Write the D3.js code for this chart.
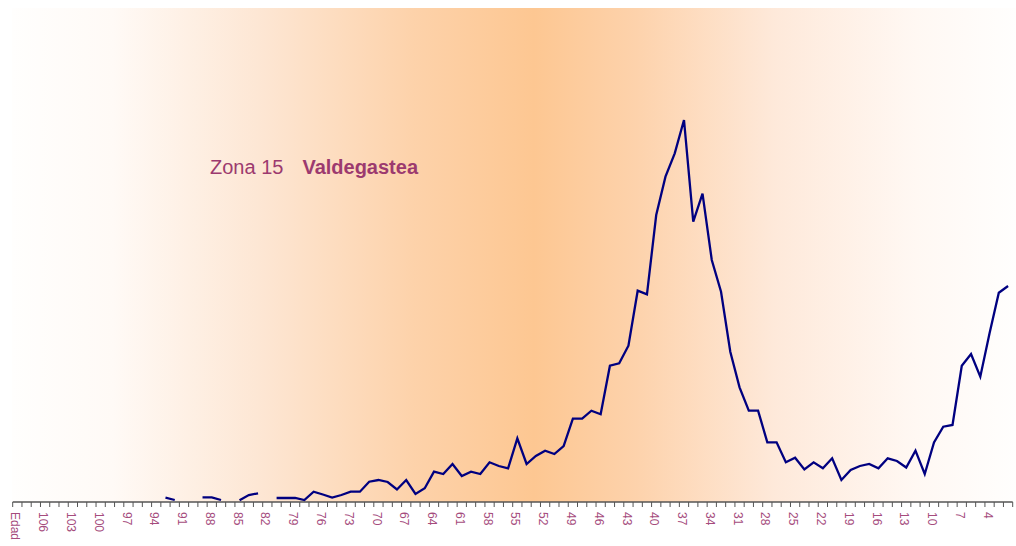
<!DOCTYPE html>
<html>
<head>
<meta charset="utf-8">
<script src="https://cdn.jsdelivr.net/npm/d3@7"></script>
<style>
  html, body { margin: 0; padding: 0; background: #fff; }
  svg { display: block; }
</style>
</head>
<body>
<div id="chart"></div>
<script>
// edades (de mayor a menor) y valores; null = sin dato
const ages = d3.range(108, 0, -1);
const values = [
  null, null, null, null, null, null, null, null, null, null, null, null, null, null, null, null,
  3.3, 1, null, null, 3.7, 3.7, 1, null, 0.7, 6, 7.7, null,
  3, 3, 3, 1, 9.3, 6.5, 3.5, 6, 9.3, 9.3,
  19.3, 21, 19, 11.5, 21, 7, 12.7, 29.3, 27, 37,
  25, 29.3, 27, 38.7, 35, 32.7, 62.7, 37, 45, 50.3,
  47, 55, 82.3, 82.3, 90.3, 86.7, 135.3, 137.7, 155.3, 210.3,
  206.7, 286, 324.3, 347.7, 381, 279.3, 307.3, 241, 209.3, 149.3,
  113.7, 90.3, 90.3, 58.7, 58.7, 38.7, 43.3, 31.5, 38.7, 32.7,
  42.7, 21, 31, 35, 37, 32.7, 42.7, 40, 33.5, 50.3,
  27, 58.5, 74.3, 76, 135.3, 147, 124.3, 167.7, 208.3, 215
];
const tickAges = d3.range(109, 0, -1);
const labelAges = [109, 106, 103, 100, 97, 94, 91, 88, 85, 82, 79, 76, 73, 70, 67, 64, 61, 58, 55, 52,
  49, 46, 43, 40, 37, 34, 31, 28, 25, 22, 19, 16, 13, 10, 7, 4];
const labelTexts = ["Edad", "106", "103", "100", "97", "94", "91", "88", "85", "82", "79", "76", "73",
  "70", "67", "64", "61", "58", "55", "52", "49", "46", "43", "40", "37", "34", "31", "28", "25", "22",
  "19", "16", "13", "10", "7", "4"];

const width = 1016, height = 546;
const plotTop = 8, axisY = 502;

const svg = d3.select("#chart").append("svg")
  .attr("width", width)
  .attr("height", height);

const x = d3.scaleLinear().domain([109, 1]).range([12.7, 1012.7]);
const y = d3.scaleLinear().domain([0, 400]).range([501, 101]);

// fondo con degradado horizontal
const grad = svg.append("defs").append("linearGradient")
  .attr("id", "bg")
  .attr("x1", "0%").attr("x2", "100%")
  .attr("y1", "0%").attr("y2", "0%");
const stops = [
  [0, "#fffefd"], [0.1, "#fffaf6"], [0.25, "#fde6d3"], [0.4, "#fdd2aa"],
  [0.52, "#fdc792"], [0.62, "#fdd2ab"], [0.76, "#fee9da"], [0.9, "#fff8f3"], [1, "#fffefd"]
];
grad.selectAll("stop")
  .data(stops)
  .join("stop")
  .attr("offset", d => d[0])
  .attr("stop-color", d => d[1]);

svg.append("rect")
  .attr("x", 12)
  .attr("y", plotTop)
  .attr("width", width - 12)
  .attr("height", axisY - plotTop)
  .attr("fill", "url(#bg)");

// titulo
const title = svg.append("text")
  .attr("x", 210)
  .attr("y", 174)
  .attr("font-family", "Liberation Sans, Arial, sans-serif")
  .attr("font-size", "20px")
  .attr("fill", "#9c3a6f");
title.append("tspan").text("Zona 15");
title.append("tspan")
  .attr("dx", 19)
  .attr("font-weight", "bold")
  .text("Valdegastea");

// eje x
const axis = svg.append("g");
axis.append("line")
  .attr("x1", x(109)).attr("x2", x(1))
  .attr("y1", axisY).attr("y2", axisY)
  .attr("stroke", "#555")
  .attr("stroke-width", 1.5);

axis.selectAll(".tick")
  .data(tickAges)
  .join("line")
  .attr("class", "tick")
  .attr("x1", d => x(d)).attr("x2", d => x(d))
  .attr("y1", axisY).attr("y2", axisY + 5)
  .attr("stroke", "#555")
  .attr("stroke-width", 1);

axis.selectAll(".lbl")
  .data(labelAges)
  .join("text")
  .attr("class", "lbl")
  .attr("transform", d => `translate(${x(d) + 3},${axisY + 10}) rotate(90)`)
  .attr("dy", "0.35em")
  .attr("font-family", "Liberation Sans, Arial, sans-serif")
  .attr("font-size", "12px")
  .attr("fill", "#a54c7d")
  .text((d, i) => labelTexts[i]);

// linea
const pts = ages.map((a, i) => ({ age: a, v: values[i] }));
const line = d3.line()
  .defined(d => d.v !== null)
  .x(d => x(d.age + 0.5))
  .y(d => y(d.v));

svg.append("path")
  .datum(pts)
  .attr("d", line)
  .attr("fill", "none")
  .attr("stroke", "#000080")
  .attr("stroke-width", 2.3)
  .attr("stroke-linejoin", "miter");
</script>
</body>
</html>
